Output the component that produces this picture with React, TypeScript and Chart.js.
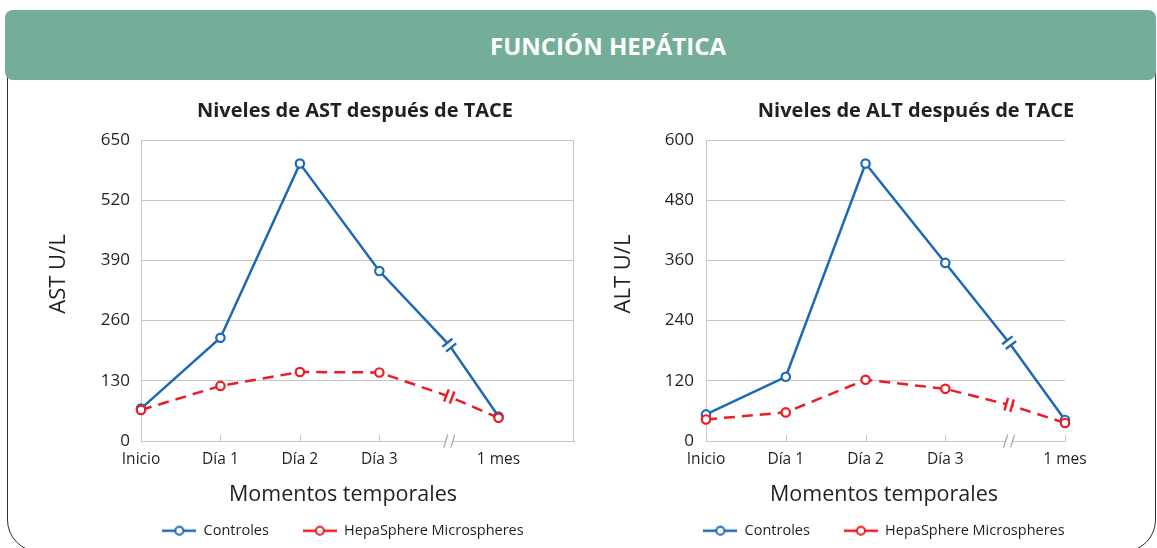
import React, { useEffect, useRef } from 'react';
import { Chart, registerables } from 'chart.js';

Chart.register(...registerables);

// ---------- data ----------
const timeLabels = ['Inicio', 'Día 1', 'Día 2', 'Día 3', '', '1 mes'];
const astTimeSlots = [0, 1, 2, 3, 3.88, 4.5];
const altTimeSlots = [0, 1, 2, 3, 3.8, 4.5];
const seriesNames = ['Controles', 'HepaSphere Microspheres'];
const astControles = [70, 223, 599, 367, 207, 53];
const astHepaSphere = [67, 119, 149, 148, 96, 50];
const altControles = [53, 128, 553, 355, 196, 42];
const altHepaSphere = [43, 57, 122, 104, 72, 36];
const astYTicks = [0, 130, 260, 390, 520, 650];
const altYTicks = [0, 120, 240, 360, 480, 600];
const BREAK_INDEX = 4;

// ---------- styles ----------
const FAMILY = "'Open Sans', 'Noto Sans', sans-serif";
const TEXT = '#231f20';
const GRID = '#c6c6c6';
const BLUE = '#1f69b4';
const RED = '#ec1c24';
const CANVAS_TOP = 85;
const CANVAS_H = 463;
const AREA_TOP = 140;
const AREA_BOTTOM = 441;
const LEG_FONT = 14.5;
const LEG_PAD = 34;
const LEG_H = LEG_FONT + LEG_PAD + 10;
const X_AXIS_H = CANVAS_TOP + CANVAS_H - LEG_H - AREA_BOTTOM;

type PanelCfg = {
  title: string;
  yTitle: string;
  slots: number[];
  controles: number[];
  hepa: number[];
  yTicks: number[];
  xMax: number;
  canvasX: number;
  canvasW: number;
  areaL: number;
  areaR: number;
  legendCenter: number;
  legendWidth: number;
  titleCenter: number;
  rightBorder: boolean;
  innerTicks: number[];
  yTickPad: number;
};

const astPanel: PanelCfg = {
  title: 'Niveles de AST después de TACE',
  yTitle: 'AST U/L',
  slots: astTimeSlots,
  controles: astControles,
  hepa: astHepaSphere,
  yTicks: astYTicks,
  xMax: 5.45,
  canvasX: 0,
  canvasW: 686,
  areaL: 141,
  areaR: 574,
  legendCenter: 343,
  legendWidth: 500,
  titleCenter: 355,
  rightBorder: true,
  innerTicks: [1, 2, 3],
  yTickPad: 11,
};

const altPanel: PanelCfg = {
  title: 'Niveles de ALT después de TACE',
  yTitle: 'ALT U/L',
  slots: altTimeSlots,
  controles: altControles,
  hepa: altHepaSphere,
  yTicks: altYTicks,
  xMax: 4.5,
  canvasX: 600,
  canvasW: 557,
  areaL: 706,
  areaR: 1065,
  legendCenter: 884,
  legendWidth: 500,
  titleCenter: 916,
  rightBorder: false,
  innerTicks: [1, 2, 3, 4.5],
  yTickPad: 12,
};

function makeMarker(color: string): HTMLCanvasElement {
  const c = document.createElement('canvas');
  c.width = 34;
  c.height = 12;
  const g = c.getContext('2d')!;
  g.strokeStyle = color;
  g.lineWidth = 2.5;
  g.beginPath();
  g.moveTo(0, 6);
  g.lineTo(34, 6);
  g.stroke();
  g.beginPath();
  g.arc(17, 6, 4, 0, Math.PI * 2);
  g.fillStyle = '#fff';
  g.fill();
  g.lineWidth = 2;
  g.stroke();
  return c;
}

const decorPlugin = {
  id: 'decor',
  beforeDatasetsDraw(chart: any, _args: any, opts: any) {
    const { ctx, chartArea: a, scales } = chart;
    const xs = scales.x;
    ctx.save();
    ctx.strokeStyle = GRID;
    ctx.lineWidth = 1;
    if (opts.rightBorder) {
      const rx = Math.round(a.right) - 0.5;
      ctx.beginPath();
      ctx.moveTo(rx, a.top);
      ctx.lineTo(rx, a.bottom);
      ctx.stroke();
    }
    for (const v of opts.innerTicks) {
      const px = Math.round(xs.getPixelForValue(v)) + 0.5;
      ctx.beginPath();
      ctx.moveTo(px, a.bottom);
      ctx.lineTo(px, a.bottom - 6);
      ctx.stroke();
    }
    const bx = xs.getPixelForValue(opts.axisBreak);
    ctx.fillStyle = '#fff';
    ctx.fillRect(bx - 3, a.bottom - 2, 6, 4);
    ctx.strokeStyle = '#a8a8a8';
    ctx.lineWidth = 1.2;
    for (const dx of [-3.5, 3.5]) {
      ctx.beginPath();
      ctx.moveTo(bx + dx - 2, a.bottom + 6.5);
      ctx.lineTo(bx + dx + 2, a.bottom - 6.5);
      ctx.stroke();
    }
    ctx.restore();
  },
  afterDatasetsDraw(chart: any) {
    const { ctx } = chart;
    const metas = chart.getSortedVisibleDatasetMetas().slice().reverse();
    for (const meta of metas) {
      const ds = chart.data.datasets[meta.index];
      const p = meta.data[BREAK_INDEX];
      const a = meta.data[BREAK_INDEX - 1];
      const b = meta.data[BREAK_INDEX + 1];
      if (!p || !a || !b) continue;
      let dx = b.x - a.x;
      let dy = b.y - a.y;
      const len = Math.hypot(dx, dy) || 1;
      dx /= len;
      dy /= len;
      const nx = -dy;
      const ny = dx;
      const g = 3;
      ctx.save();
      ctx.lineCap = 'butt';
      ctx.strokeStyle = '#fff';
      ctx.lineWidth = 5;
      ctx.beginPath();
      ctx.moveTo(p.x - dx * g, p.y - dy * g);
      ctx.lineTo(p.x + dx * g, p.y + dy * g);
      ctx.stroke();
      ctx.strokeStyle = ds.borderColor;
      ctx.lineWidth = 2.4;
      for (const s of [-1, 1]) {
        const cx = p.x + dx * g * s;
        const cy = p.y + dy * g * s;
        ctx.beginPath();
        ctx.moveTo(cx - nx * 6.5, cy - ny * 6.5);
        ctx.lineTo(cx + nx * 6.5, cy + ny * 6.5);
        ctx.stroke();
      }
      ctx.restore();
    }
  },
  afterDraw(chart: any, _args: any, opts: any) {
    const { ctx, chartArea: a } = chart;
    ctx.save();
    ctx.fillStyle = TEXT;
    ctx.textAlign = 'center';
    ctx.textBaseline = 'alphabetic';
    ctx.font = `bold 20px ${FAMILY}`;
    ctx.fillText(opts.title, opts.titleCenter - opts.canvasX, 117 - CANVAS_TOP);
    ctx.font = `21.5px ${FAMILY}`;
    ctx.fillText(opts.xTitle, opts.legendCenter - opts.canvasX, 501 - CANVAS_TOP);
    ctx.font = `22px ${FAMILY}`;
    ctx.translate(a.left - 76, 274 - CANVAS_TOP);
    ctx.rotate(-Math.PI / 2);
    ctx.fillText(opts.yTitle, 0, 0);
    ctx.restore();
  },
};

function buildConfig(cfg: PanelCfg, markers: HTMLCanvasElement[]): any {
  const legL = cfg.legendCenter - cfg.legendWidth / 2;
  const legR = cfg.legendCenter + cfg.legendWidth / 2;
  const padL = legL - cfg.canvasX;
  const padR = cfg.canvasX + cfg.canvasW - legR;
  const yAxisW = cfg.areaL - legL;
  const dummyW = legR - cfg.areaR;
  const labeled = cfg.slots.filter((_, i) => timeLabels[i] !== '');
  const colors = [BLUE, RED];
  const series = [cfg.controles, cfg.hepa];
  return {
    type: 'line',
    data: {
      datasets: series.map((vals, si) => ({
        label: seriesNames[si],
        data: cfg.slots.map((x, i) => ({ x, y: vals[i] })),
        borderColor: colors[si],
        backgroundColor: '#fff',
        borderWidth: 2.5,
        borderDash: si === 1 ? [11, 7] : [],
        pointRadius: (c: any) => (c.dataIndex === BREAK_INDEX ? 0 : 4.2),
        pointBorderWidth: 2.2,
        pointBackgroundColor: '#fff',
        pointBorderColor: colors[si],
        pointHoverRadius: 4,
        tension: 0,
        order: si === 1 ? 0 : 1,
        clip: false,
      })),
    },
    options: {
      responsive: false,
      animation: false,
      devicePixelRatio: 1,
      events: [],
      layout: { padding: { left: padL, right: padR, top: AREA_TOP - CANVAS_TOP, bottom: 0 } },
      plugins: {
        title: { display: false },
        tooltip: { enabled: false },
        legend: {
          display: true,
          position: 'bottom',
          align: 'center',
          labels: {
            usePointStyle: true,
            pointStyleWidth: 34,
            padding: LEG_PAD,
            color: TEXT,
            font: { family: FAMILY, size: LEG_FONT },
            sort: (a: any, b: any) => a.datasetIndex - b.datasetIndex,
            generateLabels: (chart: any) => {
              const items = (Chart.defaults.plugins.legend.labels as any).generateLabels(chart);
              items.forEach((it: any) => {
                it.pointStyle = markers[it.datasetIndex];
              });
              return items;
            },
          },
        },
        decor: {
          title: cfg.title,
          yTitle: cfg.yTitle,
          xTitle: 'Momentos temporales',
          titleCenter: cfg.titleCenter,
          legendCenter: cfg.legendCenter,
          canvasX: cfg.canvasX,
          rightBorder: cfg.rightBorder,
          innerTicks: cfg.innerTicks,
          axisBreak: cfg.slots[BREAK_INDEX],
        },
      },
      scales: {
        x: {
          type: 'linear',
          min: 0,
          max: cfg.xMax,
          afterBuildTicks: (s: any) => {
            s.ticks = labeled.map((v) => ({ value: v }));
          },
          afterFit: (s: any) => {
            s.height = X_AXIS_H;
          },
          grid: { display: false, drawTicks: false },
          border: { display: true, color: GRID, width: 1 },
          ticks: {
            autoSkip: false,
            maxRotation: 0,
            minRotation: 0,
            padding: 9,
            color: TEXT,
            font: { family: FAMILY, size: 15.5 },
            callback: (v: any) => timeLabels[cfg.slots.indexOf(Number(v))] ?? '',
          },
        },
        y: {
          type: 'linear',
          position: 'left',
          min: cfg.yTicks[0],
          max: cfg.yTicks[cfg.yTicks.length - 1],
          afterBuildTicks: (s: any) => {
            s.ticks = cfg.yTicks.map((v) => ({ value: v }));
          },
          afterFit: (s: any) => {
            s.width = yAxisW;
          },
          grid: { color: GRID, lineWidth: 1, drawTicks: false },
          border: { display: true, color: GRID, width: 1 },
          ticks: { padding: cfg.yTickPad, color: TEXT, font: { family: FAMILY, size: 17 } },
        },
        pad: {
          type: 'linear',
          position: 'right',
          display: true,
          grid: { display: false, drawTicks: false },
          border: { display: false },
          ticks: { display: false },
          afterFit: (s: any) => {
            s.width = Math.max(dummyW, 0);
          },
        },
      },
    },
    plugins: [decorPlugin],
  };
}

function Panel({ cfg }: { cfg: PanelCfg }) {
  const ref = useRef<HTMLCanvasElement | null>(null);
  useEffect(() => {
    const markers = [makeMarker(BLUE), makeMarker(RED)];
    const chart = new Chart(ref.current as HTMLCanvasElement, buildConfig(cfg, markers));
    return () => chart.destroy();
  }, [cfg]);
  return (
    <canvas
      ref={ref}
      width={cfg.canvasW}
      height={CANVAS_H}
      style={{ position: 'absolute', left: cfg.canvasX, top: CANVAS_TOP, width: cfg.canvasW, height: CANVAS_H }}
    />
  );
}

export default function App() {
  return (
    <div
      style={{
        position: 'fixed',
        left: 0,
        top: 0,
        width: 1157,
        height: 548,
        overflow: 'hidden',
        background: '#fff',
        fontFamily: FAMILY,
      }}
    >
      <div
        style={{
          position: 'absolute',
          left: 7,
          top: 30,
          width: 1149,
          height: 522,
          boxSizing: 'border-box',
          border: '1.5px solid #2e2e2e',
          borderRadius: 32,
        }}
      />
      <div
        style={{
          position: 'absolute',
          left: 5,
          top: 10,
          width: 1151,
          height: 70,
          boxSizing: 'border-box',
          paddingLeft: 55,
          background: '#74ae98',
          borderRadius: 8,
          display: 'flex',
          alignItems: 'center',
          justifyContent: 'center',
          color: '#fff',
          fontWeight: 700,
          fontSize: 24,
        }}
      >
        FUNCIÓN HEPÁTICA
      </div>
      <Panel cfg={astPanel} />
      <Panel cfg={altPanel} />
    </div>
  );
}
